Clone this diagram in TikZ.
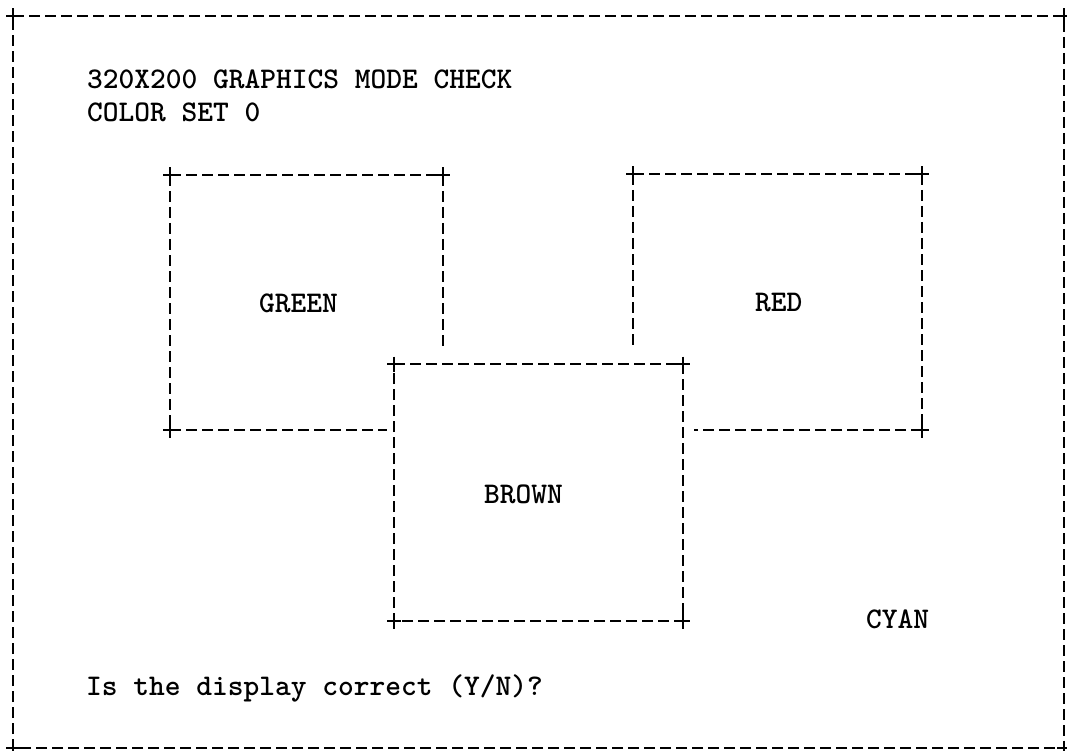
\documentclass[tikz,border=0pt]{standalone}
\begin{document}
\begin{tikzpicture}[x=1pt,y=-1pt,
  dline/.style={line width=2.3pt, dash pattern=on 11pt off 5pt},
  plusmark/.pic={\draw[line width=2.2pt] (-7,0)--(7,0) (0,-7.5)--(0,7.5);},
  lbl/.style={anchor=base west, inner sep=0pt, font=\fontsize{30}{36}\selectfont\ttfamily\bfseries}]
\useasboundingbox (0,0) rectangle (1067,751);
% outer frame
\coordinate (o1) at (13,16); \coordinate (o2) at (1064,16);
\coordinate (o3) at (1064,748); \coordinate (o4) at (13,748);
\draw[dline] (o1) -- (o2) -- (o3) -- (o4) -- cycle;
\foreach \c in {o1,o2,o3,o4} \pic at (\c) {plusmark};
% green box
\coordinate (g1) at (170,175); \coordinate (g2) at (443,175);
\coordinate (g3) at (170,430); \coordinate (g4) at (387,430);
\coordinate (g5) at (443,348);
\draw[dline] (g1) -- (g2);
\draw[dline] (g1) -- (g3);
\draw[dline] (g3) -- (g4);
\draw[dline] (g2) -- (g5);
\foreach \c in {g1,g2,g3} \pic at (\c) {plusmark};
% red box
\coordinate (r1) at (633,174); \coordinate (r2) at (922,174);
\coordinate (r3) at (922,430); \coordinate (r4) at (694,430);
\coordinate (r5) at (633,348);
\draw[dline] (r1) -- (r2);
\draw[dline] (r2) -- (r3);
\draw[dline] (r3) -- (r4);
\draw[dline] (r1) -- (r5);
\foreach \c in {r1,r2,r3} \pic at (\c) {plusmark};
% brown box
\coordinate (b1) at (394,364); \coordinate (b2) at (683,364);
\coordinate (b3) at (683,621); \coordinate (b4) at (394,621);
\draw[dline] (b1) -- (b2) -- (b3) -- (b4) -- cycle;
\foreach \c in {b1,b2,b3,b4} \pic at (\c) {plusmark};
% texts
\node[lbl] (title) at (87,89) {320X200 GRAPHICS MODE CHECK};
\node[lbl] (cset) at (87,122) {COLOR SET 0};
\node[lbl] (green) at (259,312) {GREEN};
\node[lbl] (red) at (755,311) {RED};
\node[lbl] (brown) at (484,503) {BROWN};
\node[lbl] (cyan) at (866,628) {CYAN};
\node[lbl] (ask) at (86,695) {Is the display correct (Y/N)?};
\end{tikzpicture}
\end{document}
